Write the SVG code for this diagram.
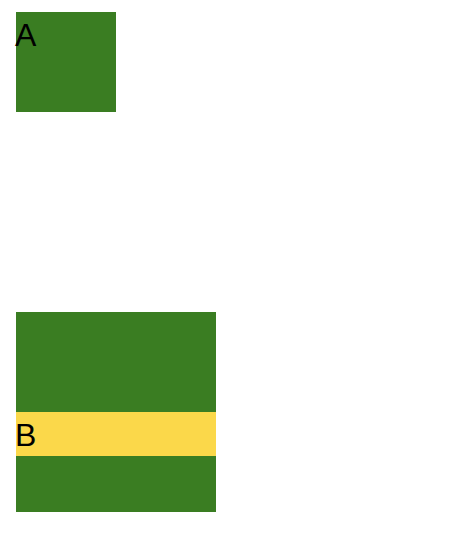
<svg xmlns="http://www.w3.org/2000/svg" width="464" height="558" viewBox="0 0 464 558">
<style>
.g{fill:#3a7d22}
.y{fill:#fbd84a}
.t{font-family:"Liberation Sans",Arial,sans-serif;font-size:32px;fill:#000}
</style>
<rect width="464" height="558" fill="#fff"/>
<g id="node-A">
<rect class="g" x="16" y="12" width="100" height="100"/>
<text class="t" x="15" y="45.5">A</text>
</g>
<g id="node-B">
<rect class="g" x="16" y="312" width="200" height="200"/>
<rect class="y" x="16" y="412" width="200" height="44"/>
<text class="t" x="15" y="445.5">B</text>
</g>
<g id="connectors"></g>
</svg>
